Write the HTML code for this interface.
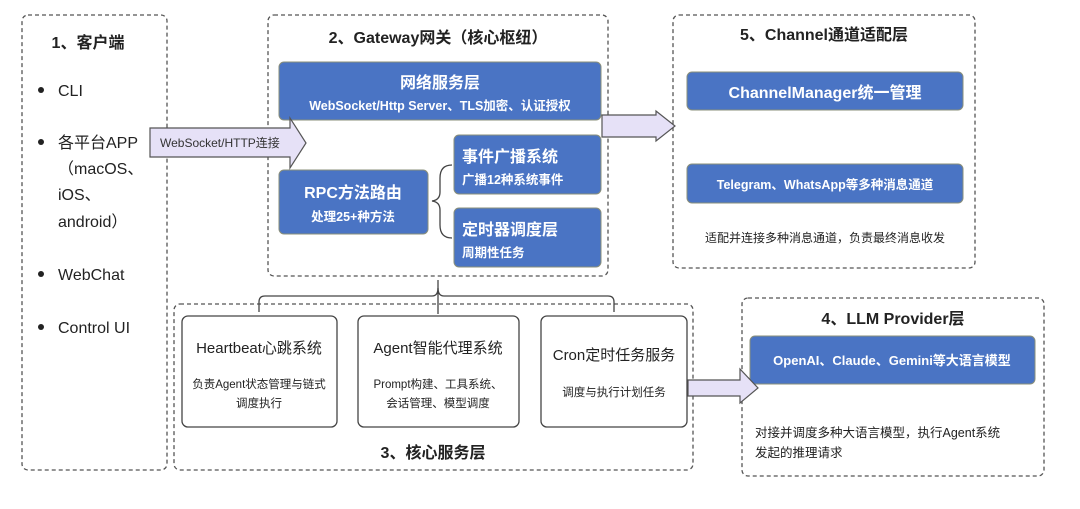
<!DOCTYPE html>
<html><head><meta charset="utf-8"><style>
html,body{margin:0;padding:0;background:#fff;}
svg text{font-family:"Liberation Sans","Noto Sans CJK SC",sans-serif;}
</style></head><body>
<svg width="1080" height="504" viewBox="0 0 1080 504" xmlns="http://www.w3.org/2000/svg">
<g fill="none" stroke="#555" stroke-width="1.3" stroke-dasharray="4,3">
<rect x="22" y="15" width="145" height="455" rx="6"/>
<rect x="268" y="15" width="340" height="261" rx="6"/>
<rect x="673" y="15" width="302" height="253" rx="6"/>
<rect x="174" y="304" width="519" height="166" rx="6"/>
<rect x="742" y="298" width="302" height="178" rx="6"/>
</g>
<g font-weight="bold" fill="#222" font-size="16" text-anchor="middle">
<text x="88" y="48">1、客户端</text>
<text x="438" y="43">2、Gateway网关（核心枢纽）</text>
<text x="824" y="40">5、Channel通道适配层</text>
<text x="433" y="458">3、核心服务层</text>
<text x="893" y="324">4、LLM Provider层</text>
</g>
<g fill="#222" font-size="16">
<circle cx="41" cy="90" r="3"/><text x="58" y="96">CLI</text>
<circle cx="41" cy="142" r="3"/><text x="58" y="148">各平台APP</text>
<text x="58" y="174">（macOS、</text><text x="58" y="200">iOS、</text><text x="58" y="227">android）</text>
<circle cx="41" cy="274" r="3"/><text x="58" y="280">WebChat</text>
<circle cx="41" cy="327" r="3"/><text x="58" y="333">Control UI</text>
</g>
<g fill="#4a74c4" stroke="#8a8f7a" stroke-width="1">
<rect x="279" y="62" width="322" height="58" rx="5"/>
<rect x="279" y="170" width="149" height="64" rx="5"/>
<rect x="454" y="135" width="147" height="59" rx="5"/>
<rect x="454" y="208" width="147" height="59" rx="5"/>
<rect x="687" y="72" width="276" height="38" rx="5"/>
<rect x="687" y="164" width="276" height="39" rx="5"/>
<rect x="750" y="336" width="285" height="48" rx="5"/>
</g>
<g fill="#fff" font-weight="bold">
<text x="440" y="88" font-size="16" text-anchor="middle">网络服务层</text>
<text x="440" y="110" font-size="12.5" text-anchor="middle">WebSocket/Http Server、TLS加密、认证授权</text>
<text x="353" y="198" font-size="16" text-anchor="middle">RPC方法路由</text>
<text x="353" y="221" font-size="12.5" text-anchor="middle">处理25+种方法</text>
<text x="462" y="162" font-size="16">事件广播系统</text>
<text x="462" y="184" font-size="12.5">广播12种系统事件</text>
<text x="462" y="235" font-size="16">定时器调度层</text>
<text x="462" y="257" font-size="12.5">周期性任务</text>
<text x="825" y="98" font-size="16" text-anchor="middle">ChannelManager统一管理</text>
<text x="825" y="189" font-size="12.5" text-anchor="middle">Telegram、WhatsApp等多种消息通道</text>
<text x="892" y="365" font-size="13" text-anchor="middle">OpenAI、Claude、Gemini等大语言模型</text>
</g>
<path d="M452,165 Q440,165 440,178 L440,192 Q440,200 432,201 Q440,202 440,210 L440,225 Q440,238 452,238" fill="none" stroke="#444" stroke-width="1.3"/>
<g fill="none" stroke="#444" stroke-width="1.3">
<path d="M438,280 L438,314"/>
<path d="M259,312 L259,302 Q259,296 265,296 L432,296 Q438,296 438,288 Q438,296 444,296 L608,296 Q614,296 614,302 L614,312"/>
</g>
<g fill="#e6e1f7" stroke="#555" stroke-width="1.2">
<path d="M150,128 L290,128 L290,118 L306,143 L290,168 L290,157 L150,157 Z"/>
<path d="M602,115 L656,115 L656,111 L675,126 L656,141 L656,137 L602,137 Z"/>
<path d="M688,380 L740,380 L740,369 L758,388 L740,403 L740,396 L688,396 Z"/>
</g>
<text x="160" y="147" font-size="12" fill="#333">WebSocket/HTTP连接</text>
<g fill="#fff" stroke="#444" stroke-width="1.3">
<rect x="182" y="316" width="155" height="111" rx="6"/>
<rect x="358" y="316" width="161" height="111" rx="6"/>
<rect x="541" y="316" width="146" height="111" rx="6"/>
</g>
<g fill="#222" text-anchor="middle">
<text x="259" y="353" font-size="15">Heartbeat心跳系统</text>
<text x="259" y="388" font-size="11.5">负责Agent状态管理与链式</text>
<text x="259" y="407" font-size="11.5">调度执行</text>
<text x="438" y="353" font-size="15">Agent智能代理系统</text>
<text x="438" y="388" font-size="11.5">Prompt构建、工具系统、</text>
<text x="438" y="407" font-size="11.5">会话管理、模型调度</text>
<text x="614" y="360" font-size="15">Cron定时任务服务</text>
<text x="614" y="396" font-size="11.5">调度与执行计划任务</text>
<text x="825" y="242" font-size="12">适配并连接多种消息通道，负责最终消息收发</text>
</g>
<g fill="#222" font-size="12.5">
<text x="755" y="437">对接并调度多种大语言模型，执行Agent系统</text>
<text x="755" y="457">发起的推理请求</text>
</g>
</svg>
</body></html>
